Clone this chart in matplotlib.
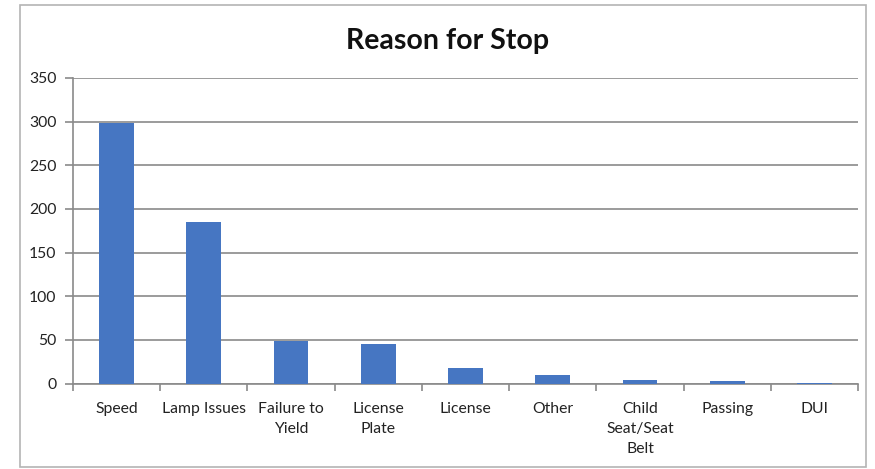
import numpy as np
import matplotlib
matplotlib.use('Agg')
import matplotlib.pyplot as plt
from matplotlib.patches import Rectangle

# ----------------------------------------------------------------------
# Data
# ----------------------------------------------------------------------

reasons = ['Speed', 'Lamp Issues', 'Failure to\nYield', 'License\nPlate',
           'License', 'Other', 'Child\nSeat/Seat\nBelt', 'Passing', 'DUI']
stops = [298, 185, 49, 45, 18, 10, 4, 3, 1]
yticks = [0, 50, 100, 150, 200, 250, 300, 350]

# ----------------------------------------------------------------------
# Plot
# ----------------------------------------------------------------------

plt.rcParams['font.family'] = ['Lato', 'DejaVu Sans']

fig = plt.figure(figsize=(8.75, 4.69), dpi=100)
ax = fig.add_axes([0.0834, 0.1823, 0.8972, 0.6514])

# outer chart border
fig.patches.append(Rectangle((20 / 875, 1 - 467 / 469), 846 / 875, 462 / 469,
                             transform=fig.transFigure, fill=False,
                             edgecolor='#b4b4b4', linewidth=1.2))

x = np.arange(len(reasons))
ax.bar(x, stops, width=0.4, color='#4676c2', zorder=3)

ax.set_xlim(-0.5, len(reasons) - 0.5)
ax.set_ylim(0, 350)
ax.set_yticks(yticks)
ax.yaxis.grid(True, color='#8a8a8a', linewidth=1.2, zorder=0)

ax.set_xticks(x)
ax.set_xticklabels(reasons, fontsize=11.3, color='#222222', linespacing=1.55,
                   va='top')
ax.tick_params(axis='x', length=0, pad=13)
ax.set_xticks(np.arange(len(reasons) + 1) - 0.5, minor=True)
ax.tick_params(axis='x', which='minor', length=5, color='#8a8a8a', width=1.2)
ax.tick_params(axis='y', length=6, color='#8a8a8a', width=1.2, pad=6,
               labelsize=11.3, labelcolor='#222222')

for s in ['top', 'right']:
    ax.spines[s].set_visible(False)
for s in ['left', 'bottom']:
    ax.spines[s].set_color('#8a8a8a')
    ax.spines[s].set_linewidth(1.2)

fig.text(0.512, 0.912, 'Reason for Stop', ha='center', va='center',
         fontsize=20.5, fontweight='bold', color='#111111')

fig.savefig('out.png', dpi=100)
